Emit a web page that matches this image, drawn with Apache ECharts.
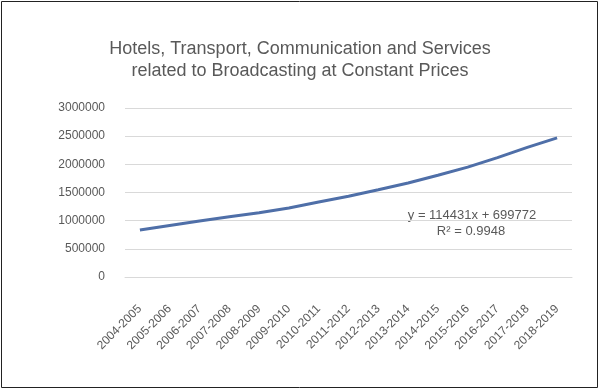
<!DOCTYPE html>
<html>
<head>
<meta charset="utf-8">
<script src="https://cdn.jsdelivr.net/npm/echarts@6/dist/echarts.min.js"></script>
<style>html,body{margin:0;padding:0;background:#fff;}#c{width:600px;height:390px;}</style>
</head>
<body>
<div id="c"></div>
<script>
const categories = ['2004-2005','2005-2006','2006-2007','2007-2008','2008-2009','2009-2010','2010-2011','2011-2012','2012-2013','2013-2014','2014-2015','2015-2016','2016-2017','2017-2018','2018-2019'];
const values = [835000, 915000, 995000, 1070000, 1140000, 1225000, 1330000, 1435000, 1550000, 1670000, 1805000, 1950000, 2120000, 2300000, 2470000];
const titleLines = ['Hotels, Transport, Communication and Services', 'related to Broadcasting at Constant Prices'];
const trendText = ['y = 114431x + 699772', 'R² = 0.9948'];

const chart = echarts.init(document.getElementById('c'), null, {renderer: 'canvas'});
chart.setOption({
  backgroundColor: '#ffffff',
  animation: false,
  title: {
    text: titleLines.join('\n'),
    left: 'center',
    top: 33,
    textStyle: {fontFamily: 'Liberation Sans', fontSize: 18, fontWeight: 'normal', color: '#595959', lineHeight: 22}
  },
  grid: {left: 125, right: 28, top: 108, bottom: 113, containLabel: false},
  xAxis: {
    type: 'category',
    data: categories,
    boundaryGap: true,
    axisLine: {show: true, lineStyle: {color: '#d9d9d9', width: 1}},
    axisTick: {show: false},
    axisLabel: {rotate: 45, interval: 0, margin: 30, fontFamily: 'Liberation Sans', fontSize: 12, color: '#595959'}
  },
  yAxis: {
    type: 'value',
    min: 0, max: 3000000, interval: 500000,
    axisLine: {show: false},
    axisTick: {show: false},
    splitLine: {lineStyle: {color: '#d9d9d9', width: 1}},
    axisLabel: {margin: 20, fontFamily: 'Liberation Sans', fontSize: 12, color: '#595959', formatter: function (v) { return String(v); }}
  },
  series: [{
    type: 'line',
    data: values,
    showSymbol: false,
    smooth: false,
    lineStyle: {color: '#4f6fa8', width: 3}
  }],
  graphic: [
    {type: 'rect', shape: {x: 1.5, y: 1.5, width: 596, height: 386}, style: {fill: 'none', stroke: '#222', lineWidth: 1}},
    {type: 'text', x: 472, y: 215, style: {text: trendText[0], align: 'center', verticalAlign: 'middle', fontFamily: 'Liberation Sans', fontSize: 13, fill: '#595959'}},
    {type: 'text', x: 471, y: 231, style: {text: trendText[1], align: 'center', verticalAlign: 'middle', fontFamily: 'Liberation Sans', fontSize: 13, fill: '#595959'}}
  ]
});
</script>
</body>
</html>
